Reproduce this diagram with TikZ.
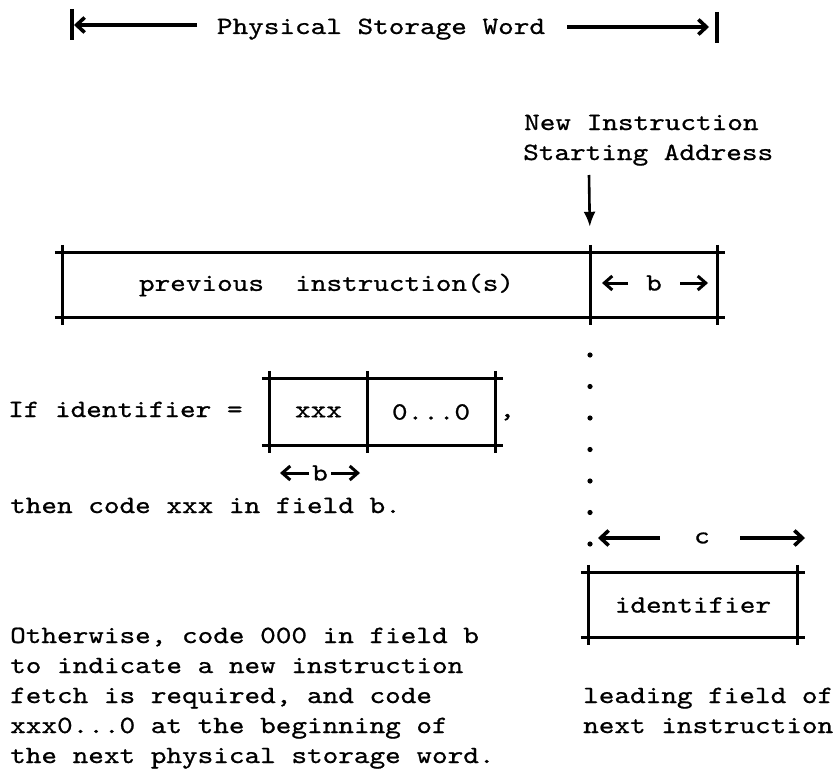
\documentclass[tikz,border=0pt]{standalone}
\usepackage{fontspec}
\newfontfamily\tw{lmmono10-regular.otf}[FakeStretch=1.2,FakeBold=0.8]
\usetikzlibrary{arrows.meta}
\begin{document}
\begin{tikzpicture}[x=1pt,y=-1pt,
  txt/.style={font=\tw\fontsize{24.8}{30}\selectfont, inner sep=0pt},
  cell/.style={txt, minimum height=64pt},
  frame/.style={line width=2.8pt, shorten <=-8pt, shorten >=-8pt},
  dim/.style={line width=3pt, -{Straight Barb[length=8pt,width=14pt]}},
  tdim/.style={line width=3.6pt, -{Straight Barb[length=8pt,width=15pt]}},
  bar/.style={line width=3.2pt}]
\fill[white] (0,0) rectangle (840,776);
\useasboundingbox (0,0) rectangle (840,776);

% title
\node[txt, anchor=base] (title) at (381,34) {Physical Storage Word};
\coordinate (tl) at (72,25);
\coordinate (tla) at (197,25);
\coordinate (tr) at (717,27);
\coordinate (tra) at (567,27);
\draw[bar] ([yshift=16pt]tl) -- ([yshift=-15pt]tl);
\draw[bar] ([yshift=15pt]tr) -- ([yshift=-16pt]tr);
\draw[tdim, shorten >=2pt] (tla) -- (tl);
\draw[tdim, shorten >=8pt] (tra) -- (tr);

% new instruction starting address
\node[txt, anchor=base west] (n1) at (524,130) {New Instruction};
\node[txt, anchor=base west] (n2) at (523,160) {Starting Address};
\coordinate (ds) at (589,175);

% main word
\node[cell, minimum width=527pt] (pv) at (326.5,285) {previous\ \ instruction(s)};
\node[cell, minimum width=127pt] (bc) at (653.5,285) {};
\draw[line width=2.6pt, -{Latex[length=15pt,width=12pt]}] (ds) -- ([yshift=26pt]bc.north west);
\draw[frame] (pv.north west) -- (bc.north east);
\draw[frame] (pv.south west) -- (bc.south east);
\draw[frame] (pv.north west) -- (pv.south west);
\draw[frame] (pv.north east) -- (pv.south east);
\draw[frame] (bc.north east) -- (bc.south east);
\node[txt] (bl) at (654,283) {b};
\coordinate (bL) at (602,283);
\coordinate (bR) at (708,283);
\draw[dim] ([xshift=-26pt]bl.center) -- (bL);
\draw[dim] ([xshift=26pt]bl.center) -- (bR);

% dots
\foreach \k in {0,...,6} \fill (590,{355+31.5*\k}) circle (2.6pt);

% c dimension
\node[txt] (cl) at (702,538) {c};
\coordinate (cL) at (598,538);
\coordinate (cR) at (805,538);
\draw[tdim] ([xshift=-42pt]cl.center) -- (cL);
\draw[tdim] ([xshift=38pt]cl.center) -- (cR);

% identifier box
\node[cell, minimum width=208pt] (id) at (693,605) {identifier};
\draw[frame] (id.north west) -- (id.north east);
\draw[frame] (id.south west) -- (id.south east);
\draw[frame] (id.north west) -- (id.south west);
\draw[frame] (id.north east) -- (id.south east);
\node[txt, anchor=base west] (lf) at (583,703) {leading field of};
\node[txt, anchor=base west] (ni) at (583,733) {next instruction};

% if identifier
\node[txt, anchor=base west] (ifid) at (8,417) {If identifier =};
\node[cell, minimum width=97pt, minimum height=66pt] (xc) at (318.5,412) {xxx};
\node[cell, minimum width=128pt, minimum height=66pt] (zc) at (431,412) {0...0};
\draw[frame] (xc.north west) -- (zc.north east);
\draw[frame] (xc.south west) -- (zc.south east);
\draw[frame] (xc.north west) -- (xc.south west);
\draw[frame] (xc.north east) -- (xc.south east);
\draw[frame] (zc.north east) -- (zc.south east);
\node[txt, anchor=base west] (cm) at (499,417) {,};
\node[txt] (b2) at (320,473) {b};
\coordinate (b2L) at (280,473);
\coordinate (b2R) at (360,473);
\draw[dim] ([xshift=-11pt]b2.center) -- (b2L);
\draw[dim] ([xshift=11pt]b2.center) -- (b2R);
\node[txt, anchor=base west] (tc) at (10,513) {then code xxx in field b.};

% otherwise paragraph
\node[txt, anchor=base west] (o1) at (10,643) {Otherwise, code 000 in field b};
\node[txt, anchor=base west] (o2) at (10,673) {to indicate a new instruction};
\node[txt, anchor=base west] (o3) at (10,703) {fetch is required, and code};
\node[txt, anchor=base west] (o4) at (10,733) {xxx0...0 at the beginning of};
\node[txt, anchor=base west] (o5) at (10,763) {the next physical storage word.};
\end{tikzpicture}
\end{document}
